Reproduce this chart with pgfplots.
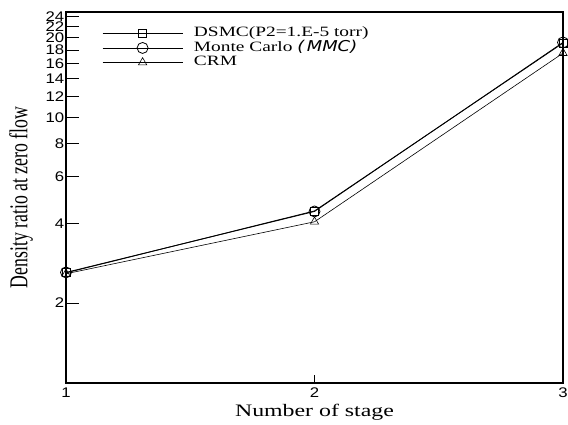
\documentclass[border=0pt]{standalone}
\usepackage{fontspec}
\setmainfont{Liberation Serif}
\newfontfamily\serifwide{Liberation Serif}[FakeStretch=1.36]
\newfontfamily\tickfont{Liberation Sans}[FakeStretch=1.2]
\newfontfamily\handfont{DejaVu Sans}[FakeStretch=1.2]
\usepackage{graphicx}
\usepackage{pgfplots}
\pgfplotsset{compat=1.18}

\begin{document}
\begin{tikzpicture}
\begin{axis}[
  scale only axis, width=497bp, height=371bp,
  xmin=1, xmax=3,
  ymode=log, ymin=1, ymax=25,
  xtick={1,2,3}, xticklabels={1,2,3},
  ytick={2,4,6,8,10,12,14,16,18,20,22,24},
  yticklabels={2,4,6,8,10,12,14,16,18,20,22,24},
  tick align=inside, xtick pos=bottom, ytick pos=left,
  major tick length=13bp, minor tick length=0pt,
  xtick style={/pgfplots/major tick length=8bp},
  every tick/.style={black, line width=0.7bp},
  axis line style={line width=1.1bp},
  ticklabel style={font=\tickfont\fontsize{14}{14}\selectfont},
  yticklabel style={inner sep=1.5bp},
  xticklabel style={inner sep=2bp, yshift=-3bp},
  /pgf/number format/assume math mode=true,
  every axis y label/.style={at={(axis description cs:0,0.5)}, xshift=-45bp, rotate=90, anchor=center},
  every axis x label/.style={at={(axis description cs:0.5,0)}, yshift=-29bp, anchor=center},
  xlabel={Number of stage},
  ylabel={\scalebox{1}[1.45]{Density ratio at zero flow}},
  xlabel style={font=\serifwide\fontsize{17.6}{20}\selectfont},
  ylabel style={font=\fontsize{17.8}{20}\selectfont},
  clip=false,
  legend cell align=left,
  legend image code/.code={%
    \draw[mark repeat=2, mark phase=2, #1] plot coordinates {(0bp,0bp) (40bp,0bp) (80bp,0bp)};},
  legend style={at={(axis description cs:0,1)}, anchor=north west,
    xshift=36bp, yshift=-14bp, draw=none, fill=none, inner sep=0pt,
    row sep=0pt, column sep=10bp,
    nodes={inner sep=1bp, text height=9.5bp, text depth=3bp},
    font=\serifwide\fontsize{14.3}{15}\selectfont},
]
\coordinate (bl) at (rel axis cs:0,0);
\coordinate (tr) at (rel axis cs:1,1);

% DSMC
\addplot[black, line width=0.8bp, mark=square, mark size=4bp, mark options={solid, fill=white}]
  coordinates {(1,2.60) (2,4.45) (3,19.1)};
% Monte Carlo
\addplot[black, line width=0.8bp, mark=o, mark size=5.5bp, mark options={solid}]
  coordinates {(1,2.61) (2,4.43) (3,19.2)};
% CRM
\addplot[black, line width=0.6bp, mark=triangle, mark size=4.8bp, mark options={solid}]
  coordinates {(1,2.58) (2,4.05) (3,17.5)};

\legend{{DSMC(P2=1.E-5 torr)},
        {Monte Carlo {\handfont\itshape\fontsize{15}{15}\selectfont(\,MMC)}},
        {CRM}}
\end{axis}
\pgfresetboundingbox
\path[use as bounding box] ([shift={(-66bp,-42bp)}]bl) rectangle ([shift={(5bp,12bp)}]tr);
\end{tikzpicture}
\end{document}
